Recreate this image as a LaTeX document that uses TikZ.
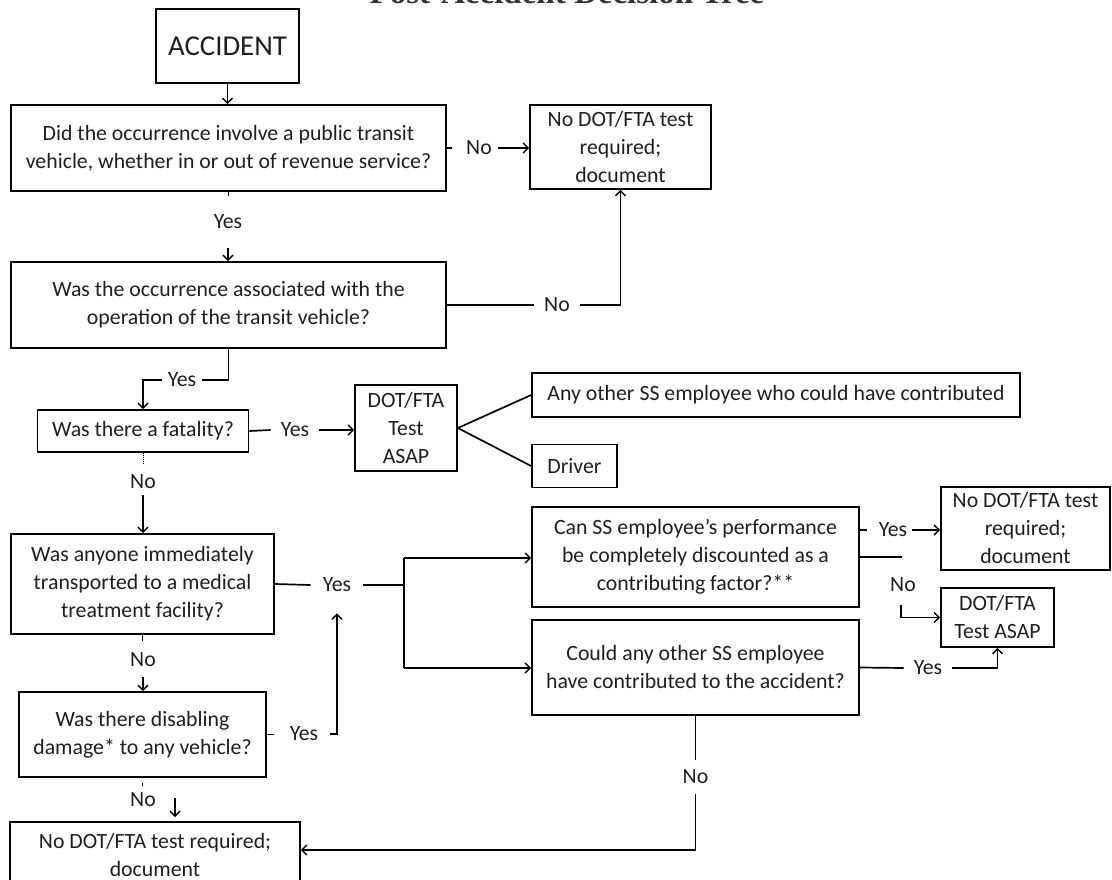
\documentclass[tikz,border=0pt]{standalone}
\usepackage{fontspec}
\setmainfont{Carlito}
\newfontfamily\titlefont{Liberation Serif}
\usetikzlibrary{arrows.meta,calc}
\begin{document}
\begin{tikzpicture}[x=1pt,y=-1pt,
  box/.style={draw, line width=1.7pt, align=center, inner sep=0pt, text=black!88,
    font=\fontsize{21.8}{28}\selectfont},
  lbl/.style={inner sep=0pt, text=black!88, font=\fontsize{21.8}{28}\selectfont},
  ln/.style={line width=1.7pt},
  arr/.style={line width=1.7pt, -{Straight Barb[length=5pt,width=10pt,line width=1.5pt]}},
]
\useasboundingbox (0,0) rectangle (1112,880);
\clip (0,0) rectangle (1112,880);

% title (mostly cut off at the top)
\node[anchor=base, inner sep=0pt, font=\titlefont\bfseries\fontsize{33}{33}\selectfont, text=black!80] (title) at (567,4) {Post-Accident Decision Tree};

% boxes
\node[box, minimum width=143pt, minimum height=74pt, font=\fontsize{28.8}{30}\selectfont] (acc) at (227.5,46) {ACCIDENT};
\node[box, minimum width=435pt, minimum height=86pt] (q1) at (228.5,148) {Did the occurrence involve a public transit\\vehicle, whether in or out of revenue service?};
\node[box, minimum width=181pt, minimum height=84pt] (nt1) at (620.5,147) {No DOT/FTA test\\required;\\document};
\node[box, minimum width=435pt, minimum height=86pt] (q2) at (228.5,305) {Was the occurrence associated with the\\operation of the transit vehicle?};
\node[box, minimum width=211pt, minimum height=42pt] (q3) at (143,431) {Was there a fatality?};
\node[box, minimum width=102pt, minimum height=86pt] (t1) at (406,428) {DOT/FTA\\Test\\ASAP};
\node[box, minimum width=488pt, minimum height=44pt] (any) at (776,395) {Any other SS employee who could have contributed};
\node[box, minimum width=85pt, minimum height=43pt] (drv) at (574.5,466) {Driver};
\node[box, minimum width=263pt, minimum height=100pt] (q4) at (142.5,584) {Was anyone immediately\\transported to a medical\\treatment facility?};
\node[box, minimum width=327pt, minimum height=100pt] (q5) at (695.5,557) {Can SS employee’s performance\\be completely discounted as a\\contributing factor?**};
\node[box, minimum width=327pt, minimum height=95pt] (q6) at (695.5,667.5) {Could any other SS employee\\have contributed to the accident?};
\node[box, minimum width=169pt, minimum height=83pt] (nt2) at (1025.5,528.5) {No DOT/FTA test\\required;\\document};
\node[box, minimum width=113pt, minimum height=59pt] (t2) at (997.5,617.5) {DOT/FTA\\Test ASAP};
\node[box, minimum width=247pt, minimum height=85pt] (q7) at (142.5,734.5) {Was there disabling\\damage* to any vehicle?};
\node[box, minimum width=290pt, minimum height=66pt] (nt3) at (155,855) {No DOT/FTA test required;\\document};

% labels
\node[lbl] (no1) at (479,148) {No};
\node[lbl] (yes1) at (228,222) {Yes};
\node[lbl] (no2) at (557,305) {No};
\node[lbl] (yes2) at (182,380) {Yes};
\node[lbl] (yes3) at (295,430) {Yes};
\node[lbl] (no3) at (143,482) {No};
\node[lbl] (yes4) at (337,585) {Yes};
\node[lbl] (no4) at (143,660) {No};
\node[lbl] (yes7) at (304,734) {Yes};
\node[lbl] (no7) at (143,800) {No};
\node[lbl] (yes5) at (893,530) {Yes};
\node[lbl] (no5) at (903,585) {No};
\node[lbl] (yes6) at (928,668) {Yes};
\node[lbl] (no6) at (695.5,777) {No};

% connectors
\draw[arr] (acc.south) -- (acc.south |- q1.north);
\draw[ln] (q1.east) -- ++(5,0);
\draw[arr] ([xshift=6pt]no1.east) -- (no1.east -| nt1.west);
\draw[ln] (q1.south) -- ++(0,4);
\draw[arr] ([yshift=-19pt]yes1.south) -- (yes1.south |- q2.north);

\draw[ln] (q2.east) -- ([xshift=-10pt]no2.west);
\draw[arr] ([xshift=10pt]no2.east) -| (nt1.south);

\draw[ln] (q2.south) |- ([xshift=6pt]yes2.east);
\draw[arr] ([xshift=-6pt]yes2.west) -| (q3.north);

\draw[ln] (q3.east) -- ([xshift=-10pt]yes3.west);
\draw[arr] ([xshift=10pt]yes3.east) -- (yes3.east -| t1.west);
\draw[ln] (t1.east) -- (any.west);
\draw[ln] (t1.east) -- (drv.west);

\draw[line width=1pt, densely dotted] (q3.south) -- ++(0,12);
\draw[arr] ([yshift=-6pt]no3.south) -- (no3.south |- q4.north);

\coordinate (br) at (404,585);
\coordinate (brT) at (404,558);
\coordinate (brB) at (404,668);
\draw[ln] (q4.east) -- ([xshift=-12pt]yes4.west);
\draw[ln] ([xshift=12pt]yes4.east) -- (br);
\draw[ln] (brT) -- (brB);
\draw[arr] (brT) -- (brT -| q5.west);
\draw[arr] (brB) -- (brB -| q6.west);

\draw[ln] (q4.south) -- ++(0,6);
\draw[arr] ([yshift=-10pt]no4.south) -- (no4.south |- q7.north);

\draw[ln] (q7.east) -- ++(7,0);
\draw[arr] ([xshift=12pt]yes7.east) -| ([yshift=-21pt]yes4.south);

\draw[ln] ([yshift=-5pt]q7.south) -- ++(0,3);
\coordinate (sa) at (175,798);
\draw[arr] (sa) -- ([yshift=4pt]sa |- nt3.north);

\coordinate (q5y) at ($(q5.east)+(0,-27)$);
\draw[ln] (q5y) -- ++(7,0);
\draw[arr] ([xshift=5pt]yes5.east) -- (yes5.east -| nt2.west);
\draw[ln] (q5.east) -- ++(42,0);
\coordinate (n5a) at (901,605);
\draw[arr] (n5a) |- (t2.west);

\draw[ln] (q6.east) -- ([xshift=-10pt]yes6.west);
\draw[arr] ([xshift=10pt]yes6.east) -| (t2.south);
\draw[ln] (q6.south) -- ([yshift=10pt]no6.north);
\draw[arr] ([yshift=-10pt]no6.south) |- ([yshift=5pt]nt3.east);
\end{tikzpicture}
\end{document}
